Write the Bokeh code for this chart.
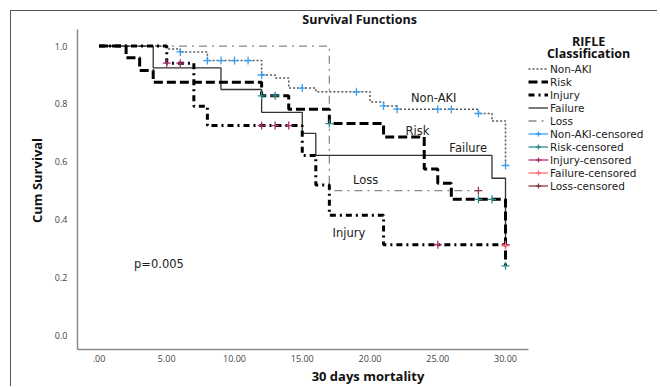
import numpy as np
from bokeh.plotting import figure
from bokeh.models import Label, Legend, LegendItem, Range1d, FixedTicker, ColumnDataSource
from bokeh.embed import file_html
from bokeh.resources import INLINE

# ---------------- data ----------------
groups = ["Non-AKI", "Risk", "Injury", "Failure", "Loss"]

nonaki_t = [0, 5, 6, 8, 12, 13, 14, 16, 20, 21, 22, 28, 29, 30]
nonaki_s = [1.0, 0.99, 0.98, 0.95, 0.90, 0.89, 0.855, 0.842, 0.807, 0.793, 0.782, 0.767, 0.741, 0.587]
nonaki_c = [6, 8, 9, 10, 11, 12, 15, 19, 21, 22, 25, 26, 28, 30]

risk_t = [0, 2, 3, 4, 12, 14, 17, 21, 24, 25, 26, 30]
risk_s = [1.0, 0.96, 0.916, 0.875, 0.828, 0.782, 0.732, 0.686, 0.575, 0.526, 0.47, 0.24]
risk_c = [12, 13, 17, 28, 29, 30]

injury_t = [0, 5, 7, 8, 15, 16, 17, 21, 30]
injury_s = [1.0, 0.941, 0.792, 0.725, 0.622, 0.52, 0.415, 0.313, 0.313]
injury_c = [5, 6, 12, 13, 14, 25, 30]

failure_t = [0, 4, 9, 12, 15, 16, 29, 30]
failure_s = [1.0, 0.925, 0.85, 0.771, 0.698, 0.622, 0.543, 0.31]
failure_c = [30]

loss_t = [0, 17, 28]
loss_s = [1.0, 0.50, 0.50]
loss_c = [28]

x_ticks = [0, 5, 10, 15, 20, 25, 30]
x_tick_labels = [".00", "5.00", "10.00", "15.00", "20.00", "25.00", "30.00"]
y_ticks = [0.0, 0.2, 0.4, 0.6, 0.8, 1.0]
y_tick_labels = ["0.0", "0.2", "0.4", "0.6", "0.8", "1.0"]

# curve labels drawn on the chart
curve_labels = ["Non-AKI", "Risk", "Failure", "Loss", "Injury"]
curve_label_x = [24.7, 23.5, 27.25, 19.67, 18.44]
curve_label_y = [0.819, 0.706, 0.646, 0.537, 0.353]
pvalue_text = "p=0.005"

# axis extents (data units)
x_axis_min, x_axis_max = -1.587, 31.7
y_axis_min, y_axis_max = -0.0493, 1.0576

# ---------------- styles ----------------
FONT = "Open Sans"
LFONT = "DejaVu Sans"
line_styles = {
    "Non-AKI": dict(color="#555555", width=1.5, dash="2 2"),
    "Risk": dict(color="#000000", width=3.0, dash="9 4"),
    "Injury": dict(color="#000000", width=3.0, dash="6 4 2 4"),
    "Failure": dict(color="#333333", width=1.3, dash="solid"),
    "Loss": dict(color="#888888", width=1.3, dash="8 5 2 5"),
}
censor_colors = {
    "Non-AKI": "#3a9ef0",
    "Risk": "#2f8c8c",
    "Injury": "#b0306e",
    "Failure": "#ff7070",
    "Loss": "#8b3a48",
}

p = figure(width=647, height=376, output_backend="svg", toolbar_location=None,
           x_range=Range1d(x_axis_min, 41.29), y_range=Range1d(y_axis_min, 1.1197),
           min_border_left=66, min_border_top=0, min_border_right=0, min_border_bottom=36,
           styles={"border-top": "1px solid #555", "border-left": "1px solid #555",
                   "margin-left": "10px", "margin-top": "10px"})
p.outline_line_color = None
p.grid.grid_line_color = None
p.background_fill_color = "white"

for ax in (p.xaxis[0], p.yaxis[0]):
    ax.axis_line_color = "#8a8a8a"
    ax.axis_line_width = 1.5
    ax.major_tick_line_color = None
    ax.minor_tick_line_color = None
    ax.major_tick_out = 0
    ax.major_tick_in = 0
    ax.major_label_text_font = FONT
    ax.major_label_text_font_size = "9px"
    ax.major_label_text_color = "#444444"
    ax.axis_label_text_font = FONT
    ax.axis_label_text_font_size = "13px"
    ax.axis_label_text_font_style = "bold"
    ax.axis_label_text_color = "#111111"

p.xaxis.bounds = (x_axis_min, x_axis_max)
p.yaxis.bounds = (y_axis_min, y_axis_max)
p.xaxis.ticker = FixedTicker(ticks=x_ticks)
p.xaxis.major_label_overrides = {t: l for t, l in zip(x_ticks, x_tick_labels)}
p.yaxis.ticker = FixedTicker(ticks=y_ticks)
p.yaxis.major_label_overrides = {t: l for t, l in zip(y_ticks, y_tick_labels)}
p.xaxis.axis_label = "30 days mortality"
p.yaxis.axis_label = "Cum Survival"
p.xaxis.major_label_standoff = 5
p.xaxis.axis_label_standoff = 2
p.yaxis.major_label_standoff = 10
p.yaxis.axis_label_standoff = 6

series = {
    "Non-AKI": (nonaki_t, nonaki_s, nonaki_c),
    "Risk": (risk_t, risk_s, risk_c),
    "Injury": (injury_t, injury_s, injury_c),
    "Failure": (failure_t, failure_s, failure_c),
    "Loss": (loss_t, loss_s, loss_c),
}

def surv_at(t_arr, s_arr, times):
    t_arr = np.asarray(t_arr, dtype=float)
    s_arr = np.asarray(s_arr, dtype=float)
    idx = np.searchsorted(t_arr, np.asarray(times, dtype=float), side="right") - 1
    return s_arr[idx]

draw_order = ["Loss", "Non-AKI", "Failure", "Injury", "Risk"]
curve_r = {}
for g in draw_order:
    t, s, c = series[g]
    st = line_styles[g]
    curve_r[g] = p.step(t, s, mode="after", line_color=st["color"], line_width=st["width"],
                        line_dash=st["dash"])

cens_r = {}
for g in groups:
    t, s, c = series[g]
    src = ColumnDataSource(dict(x=c, y=surv_at(t, s, c)))
    cens_r[g] = p.scatter("x", "y", source=src, marker="cross", size=8,
                          line_color=censor_colors[g], line_width=1.3)

legend_items = []
for g in groups:
    legend_items.append(LegendItem(label=g, renderers=[curve_r[g]]))
for g in groups:
    # legend-only line (a single missing point, so nothing is drawn in the plot)
    stub = p.line(np.array([np.nan]), np.array([np.nan]), line_color=censor_colors[g],
                  line_width=1.3)
    legend_items.append(LegendItem(label=g + "-censored", renderers=[stub, cens_r[g]]))

legend = Legend(items=legend_items, location=(451, 157), margin=0, padding=1, spacing=0,
                label_height=13, glyph_height=13, glyph_width=20, label_standoff=2,
                label_text_font=LFONT, label_text_font_size="10.5px", label_text_color="#222222",
                border_line_color=None, background_fill_alpha=0)
p.add_layout(legend)

for txt, x, y in zip(curve_labels, curve_label_x, curve_label_y):
    p.add_layout(Label(x=x, y=y, text=txt, text_font=LFONT, text_font_size="11.5px",
                       text_align="center", text_baseline="middle", text_color="#222222"))
p.add_layout(Label(x=4.42, y=0.247, text=pvalue_text, text_font=LFONT, text_font_size="11.5px",
                   text_align="center", text_baseline="middle", text_color="#222222"))

# chart title and legend title
p.add_layout(Label(x=19.23, y=1.092, text="Survival Functions", text_font=FONT,
                   text_font_size="12.5px", text_font_style="bold", text_align="center",
                   text_baseline="middle", text_color="#111111"))
p.add_layout(Label(x=36.13, y=1.017, text="RIFLE", text_font=FONT,
                   text_font_size="12.5px", text_font_style="bold", text_align="center",
                   text_baseline="middle", text_color="#111111"))
p.add_layout(Label(x=36.13, y=0.975, text="Classification", text_font=FONT,
                   text_font_size="12.5px", text_font_style="bold", text_align="center",
                   text_baseline="middle", text_color="#111111"))

open("out.html", "w").write(file_html(p, INLINE))
